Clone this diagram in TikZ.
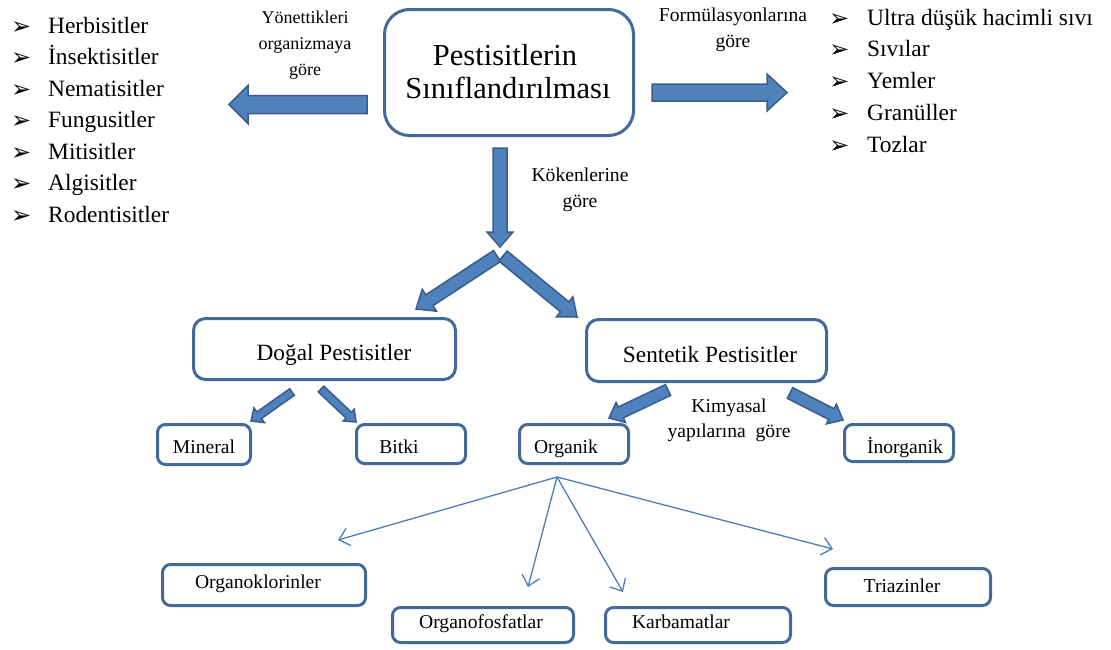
\documentclass[tikz,border=0pt]{standalone}
\usepackage{fontspec}
\setmainfont{Liberation Serif}
\newfontfamily\dejavu{DejaVu Sans}
\usetikzlibrary{arrows.meta,calc}
\definecolor{boxc}{HTML}{41699A}
\definecolor{arrfill}{HTML}{4F81BD}
\definecolor{arrdraw}{HTML}{385D8A}
\definecolor{thinc}{HTML}{4A7EBB}
\tikzset{
  box/.style={draw=boxc, line width=3pt, fill=white, inner sep=0pt, rounded corners=#1},
  box/.default=9pt,
  barrow/.style={fill=arrfill, draw=arrdraw, line width=1.5pt, line join=miter},
  thinarr/.style={draw=thinc, line width=1.3pt, -{Straight Barb[length=10pt,width=18pt]}},
  item/.style={anchor=base west, font=\fontsize{23.4}{28}\selectfont, inner sep=0pt},
  bul/.style={anchor=base west, font=\dejavu\fontsize{24}{24}\selectfont, inner sep=0pt},
  lbl/.style={anchor=base, font=\fontsize{19.6}{24}\selectfont, inner sep=0pt},
  ttl/.style={anchor=base, font=\fontsize{30.5}{34}\selectfont, inner sep=0pt},
  btxt/.style={anchor=base, font=\fontsize{23.3}{26}\selectfont, inner sep=0pt},
  stxt/.style={anchor=base, font=\fontsize{19.6}{22}\selectfont, inner sep=0pt},
}
\newcommand\blockarrow[6][]{%
  \coordinate (ba-c) at ($(#3)!#6!(#2)$);
  \path[barrow,#1] ($(#2)!#4!90:(#3)$) -- ($(ba-c)!#4!90:(#3)$) -- ($(ba-c)!#5!90:(#3)$) -- (#3)
    -- ($(ba-c)!#5!-90:(#3)$) -- ($(ba-c)!#4!-90:(#3)$) -- ($(#2)!#4!-90:(#3)$) -- cycle;
}
\begin{document}
\begin{tikzpicture}[x=1pt,y=-1pt]
\useasboundingbox[fill=white] (0,0) rectangle (1111,649);

% main box
\node[box=25pt, minimum width=249pt, minimum height=126pt] (main) at (509,72.5) {};
\node[ttl] (t1) at (505,65) {Pestisitlerin};
\node[ttl] (t2) at (508,98) {Sınıflandırılması};

% left list
\foreach \txt [count=\i from 0] in {Herbisitler,İnsektisitler,Nematisitler,Fungusitler,Mitisitler,Algisitler,Rodentisitler}{
  \node[bul] (lb\i) at (11,34+31.5*\i) {➢};
  \node[item] (li\i) at (48,33+31.5*\i) {\txt};
}
% right list
\foreach \txt [count=\i from 0] in {Ultra düşük hacimli sıvı,Sıvılar,Yemler,Granüller,Tozlar}{
  \node[bul] (rb\i) at (829,26+31.75*\i) {➢};
  \node[item] (ri\i) at (867,25+31.75*\i) {\txt};
}

% labels
\node[lbl, font=\fontsize{18}{22}\selectfont] (y1) at (305,23) {Yönettikleri};
\node[lbl, font=\fontsize{18}{22}\selectfont] (y2) at (305,49) {organizmaya};
\node[lbl, font=\fontsize{18}{22}\selectfont] (y3) at (305,75) {göre};
\node[lbl] (f1) at (733,21) {Formülasyonlarına};
\node[lbl] (f2) at (733,47) {göre};
\node[lbl] (k1) at (580,181) {Kökenlerine};
\node[lbl] (k2) at (580,207) {göre};
\node[lbl] (m1) at (729,412) {Kimyasal};
\node[lbl] (m2) at (729,437) {yapılarına\ \ göre};

% big block arrows
\coordinate (lA) at (367,104.5); \coordinate (lB) at (229,104.5);
\blockarrow{lA}{lB}{9pt}{19pt}{19pt}
\coordinate (rA) at (652,92.5); \coordinate (rB) at (787,92.5);
\blockarrow{rA}{rB}{8.5pt}{18.5pt}{20pt}
\coordinate (dA) at (500,148); \coordinate (dB) at (500,247);
\blockarrow{dA}{dB}{7pt}{13pt}{15pt}
\coordinate (vlA) at (497,256); \coordinate (vlB) at (416,309);
\blockarrow{vlA}{vlB}{6.5pt}{13pt}{16pt}
\coordinate (vrA) at (503,256); \coordinate (vrB) at (577,317);
\blockarrow{vrA}{vrB}{6.5pt}{13pt}{16pt}

% level 2 boxes
\node[box=12pt, minimum width=262pt, minimum height=61pt] (dogal) at (324.5,349) {};
\node[btxt] (dogalt) at (334,360) {Doğal Pestisitler};
\node[box=12pt, minimum width=240pt, minimum height=62pt] (sent) at (706.5,350.5) {};
\node[btxt] (sentt) at (710,362) {Sentetik Pestisitler};

% small arrows
\coordinate (a1) at (292,392); \coordinate (b1) at (251,421);
\blockarrow{a1}{b1}{4pt}{9pt}{10pt}
\coordinate (a2) at (321,389); \coordinate (b2) at (356,422);
\blockarrow{a2}{b2}{4pt}{8pt}{10pt}
\coordinate (a3) at (668,390); \coordinate (b3) at (609,418);
\blockarrow{a3}{b3}{6pt}{11pt}{13pt}
\coordinate (a4) at (790,393); \coordinate (b4) at (843,420);
\blockarrow{a4}{b4}{6pt}{11pt}{13pt}

% level 3 boxes
\node[box=8pt, minimum width=93pt, minimum height=40pt] (mineral) at (204,444.5) {};
\node[stxt] (mineralt) at (204,453) {Mineral};
\node[box=8pt, minimum width=109pt, minimum height=39pt] (bitki) at (411,444) {};
\node[stxt] (bitkit) at (399,453) {Bitki};
\node[box=8pt, minimum width=109pt, minimum height=39pt] (organik) at (574,444) {};
\node[stxt] (organikt) at (566,453) {Organik};
\node[box=8pt, minimum width=109pt, minimum height=37pt] (inorg) at (899,443) {};
\node[stxt] (inorgt) at (905,453) {İnorganik};

% level 4 boxes
\node[box=8pt, minimum width=203pt, minimum height=41pt] (oklor) at (264,585) {};
\node[stxt] (oklort) at (258,588) {Organoklorinler};
\node[box=8pt, minimum width=181pt, minimum height=35pt] (ofosf) at (483,625) {};
\node[stxt] (ofosft) at (481,628) {Organofosfatlar};
\node[box=8pt, minimum width=185pt, minimum height=35pt] (karb) at (698,625) {};
\node[stxt] (karbt) at (681,628) {Karbamatlar};
\node[box=8pt, minimum width=165pt, minimum height=37pt] (triaz) at (908,587) {};
\node[stxt] (triazt) at (902,592) {Triazinler};

% thin arrows
\coordinate (hub) at (557,477);
\coordinate (e1) at (338,540);
\coordinate (e2) at (528,587);
\coordinate (e3) at (623,592);
\coordinate (e4) at (833,549);
\draw[thinarr] (hub) -- (e1);
\draw[thinarr] (hub) -- (e2);
\draw[thinarr] (hub) -- (e3);
\draw[thinarr] (hub) -- (e4);
\end{tikzpicture}
\end{document}
